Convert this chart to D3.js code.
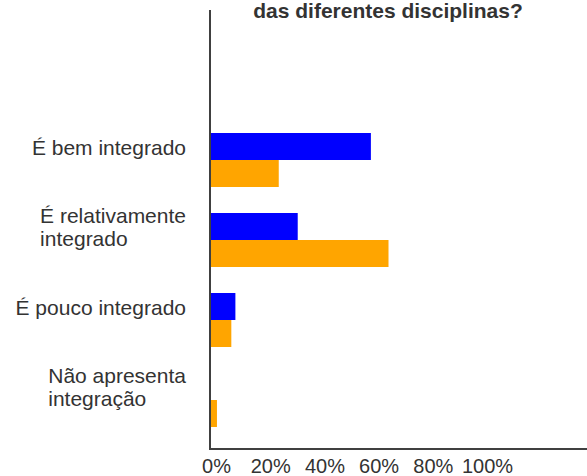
<!DOCTYPE html>
<html>
<head>
<meta charset="utf-8">
<script src="https://cdn.jsdelivr.net/npm/d3@7"></script>
<style>
    body { margin: 0; background: #ffffff; }
    text { font-family: "Liberation Sans", Arial, sans-serif; fill: #333333; }
</style>
</head>
<body>
<script>
const width = 587;
const height = 476;

const categories = ["É bem integrado", "É relativamente integrado", "É pouco integrado", "Não apresenta integração"];
const labelLines = [["É bem integrado"], ["É relativamente", "integrado"], ["É pouco integrado"], ["Não apresenta", "integração"]];
const series = ["serie1", "serie2"];
const serie1 = [0.59, 0.32, 0.09, 0];
const serie2 = [0.25, 0.655, 0.075, 0.022];
const tickValues = [0, 0.2, 0.4, 0.6, 0.8, 1];
const title = "das diferentes disciplinas?";
const colors = ["#0000ff", "#ffa500"];

const svg = d3.select("body")
    .append("svg")
    .attr("width", width)
    .attr("height", height);

const x = d3.scaleLinear()
    .domain([0, 1])
    .range([211, 482]);

const y = d3.scaleBand()
    .domain(categories)
    .range([111, 449])
    .paddingInner(0.325)
    .paddingOuter(0.275);

const y1 = d3.scaleBand()
    .domain(series)
    .range([0, y.bandwidth()]);

const color = d3.scaleOrdinal().domain(series).range(colors);

// title (top part cut off in the original)
svg.append("text")
    .attr("x", 388)
    .attr("y", 18)
    .attr("text-anchor", "middle")
    .style("font-size", "21px")
    .style("font-weight", "bold")
    .text(title);

// bars
const rows = categories.map((c, i) => ({ cat: c, values: [serie1[i], serie2[i]] }));

const groups = svg.selectAll("g.row")
    .data(rows)
    .enter()
    .append("g")
    .attr("class", "row")
    .attr("transform", d => `translate(0,${y(d.cat)})`);

groups.selectAll("rect")
    .data(d => d.values.map((v, j) => ({ key: series[j], v: v })))
    .enter()
    .append("rect")
    .attr("x", x(0))
    .attr("y", d => y1(d.key))
    .attr("width", d => x(d.v) - x(0))
    .attr("height", y1.bandwidth())
    .attr("fill", d => color(d.key));

// category labels: block right edge at 186, lines left aligned
groups.each(function(d, i) {
    const g = d3.select(this);
    const lines = labelLines[i];
    const lh = 23.5;
    const t = g.append("text").style("font-size", "21px");
    lines.forEach((l, k) => {
        t.append("tspan").attr("x", 0).attr("y", k * lh).text(l);
    });
    let maxW = 0;
    t.selectAll("tspan").each(function() {
        maxW = Math.max(maxW, this.getComputedTextLength());
    });
    const blockH = 15 + (lines.length - 1) * lh;
    const top = y.bandwidth() / 2 - 13 - blockH / 2 + 15;
    t.attr("transform", `translate(${186 - maxW},${top})`);
});

// axes
svg.append("line")
    .attr("x1", 210).attr("x2", 210)
    .attr("y1", 10).attr("y2", 450)
    .attr("stroke", "#404040")
    .attr("stroke-width", 2);

svg.append("line")
    .attr("x1", 209).attr("x2", width)
    .attr("y1", 449).attr("y2", 449)
    .attr("stroke", "#404040")
    .attr("stroke-width", 2);

const xAxis = svg.append("g")
    .attr("transform", "translate(0,449)")
    .call(d3.axisBottom(x)
        .tickValues(tickValues)
        .tickFormat(d3.format(".0%"))
        .tickSizeInner(0)
        .tickSizeOuter(0)
        .tickPadding(10));

xAxis.select(".domain").remove();
xAxis.selectAll("text")
    .attr("dx", 5)
    .style("font-size", "20px")
    .style("font-family", "\"Liberation Sans\", Arial, sans-serif")
    .attr("fill", "#333333");
</script>
</body>
</html>
